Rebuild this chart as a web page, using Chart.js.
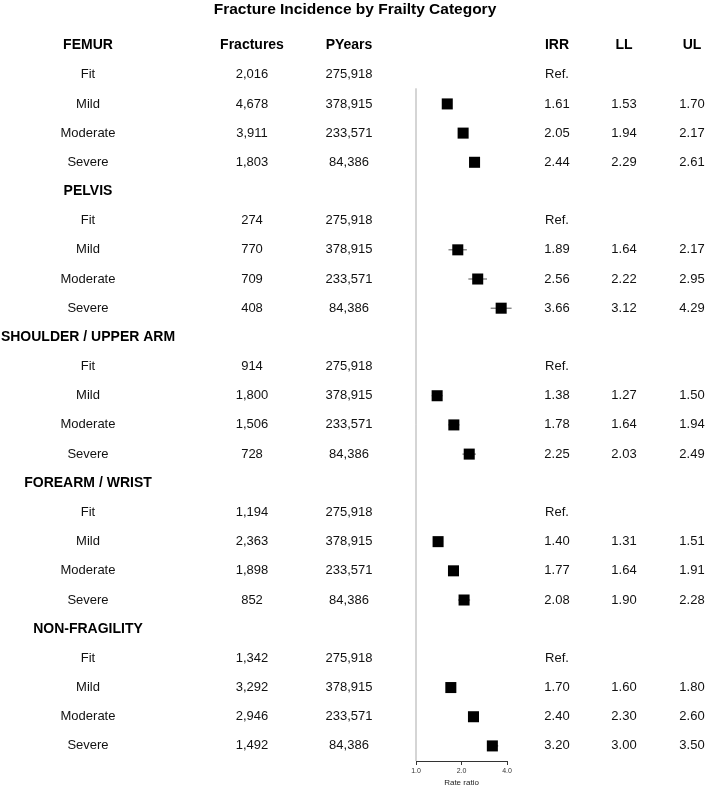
<!DOCTYPE html>
<html>
<head>
<meta charset="utf-8">
<script src="https://cdn.jsdelivr.net/npm/chart.js@4/dist/chart.umd.min.js"></script>
<style>
html,body{margin:0;padding:0;background:#fff;}
#wrap{width:708px;height:787px;position:relative;}
</style>
</head>
<body>
<div id="wrap"><canvas id="c"></canvas></div>
<script>
const title = 'Fracture Incidence by Frailty Category';
const sections = ['FEMUR', 'PELVIS', 'SHOULDER / UPPER ARM', 'FOREARM / WRIST', 'NON-FRAGILITY'];
const categories = ['Fit', 'Mild', 'Moderate', 'Severe'];
const columnHeaders = ['Fractures', 'PYears', 'IRR', 'LL', 'UL'];
const refLabel = 'Ref.';

const fractures = [
  [2016, 4678, 3911, 1803],
  [274, 770, 709, 408],
  [914, 1800, 1506, 728],
  [1194, 2363, 1898, 852],
  [1342, 3292, 2946, 1492]
];
const pyears = [275918, 378915, 233571, 84386];

// IRR / LL / UL for Mild, Moderate, Severe (Fit is reference)
const irr = [
  [1.61, 2.05, 2.44],
  [1.89, 2.56, 3.66],
  [1.38, 1.78, 2.25],
  [1.40, 1.77, 2.08],
  [1.70, 2.40, 3.20]
];
const lower = [
  [1.53, 1.94, 2.29],
  [1.64, 2.22, 3.12],
  [1.27, 1.64, 2.03],
  [1.31, 1.64, 1.90],
  [1.60, 2.30, 3.00]
];
const upper = [
  [1.70, 2.17, 2.61],
  [2.17, 2.95, 4.29],
  [1.50, 1.94, 2.49],
  [1.51, 1.91, 2.28],
  [1.80, 2.60, 3.50]
];

const tickValues = [1, 2, 4];
const tickLabels = ['1.0', '2.0', '4.0'];
const axisTitle = 'Rate ratio';

const Y_MIN = -1.294;
const Y_MAX = 24.517;
const ROWS_PER_SECTION = categories.length + 1;

const markers = [];
const ciLine = [];
sections.forEach((s, si) => {
  irr[si].forEach((v, k) => {
    const row = si * ROWS_PER_SECTION + 2 + k;
    markers.push({x: v, y: row});
    ciLine.push({x: lower[si][k], y: row});
    ciLine.push({x: upper[si][k], y: row});
    ciLine.push({x: NaN, y: NaN});
  });
});
const refLine = [{x: 1, y: 1.47}, {x: 1, y: Y_MAX}];

const fmt = n => n.toLocaleString('en-US');
const COL = {label: 88, fr: 252, py: 349, irr: 557, ll: 624, ul: 692};

const tablePlugin = {
  id: 'tableText',
  afterDraw(chart) {
    const ctx = chart.ctx;
    const ys = chart.scales.y;
    ctx.save();
    ctx.textAlign = 'center';
    ctx.textBaseline = 'middle';
    ctx.fillStyle = '#000';
    ctx.font = 'bold 15.5px "Liberation Sans", Arial, sans-serif';
    ctx.fillText(title, 355, 10);
    sections.forEach((s, si) => {
      const hr = si * ROWS_PER_SECTION;
      const hy = ys.getPixelForValue(hr);
      ctx.fillStyle = '#000';
      ctx.font = 'bold 14px "Liberation Sans", Arial, sans-serif';
      ctx.fillText(s, COL.label, hy);
      if (si === 0) {
        ctx.fillText(columnHeaders[0], COL.fr, hy);
        ctx.fillText(columnHeaders[1], COL.py, hy);
        ctx.fillText(columnHeaders[2], COL.irr, hy);
        ctx.fillText(columnHeaders[3], COL.ll, hy);
        ctx.fillText(columnHeaders[4], COL.ul, hy);
      }
      ctx.font = '13px "Liberation Sans", Arial, sans-serif';
      ctx.fillStyle = '#111';
      categories.forEach((c, ci) => {
        const y = ys.getPixelForValue(hr + 1 + ci);
        ctx.fillText(c, COL.label, y);
        ctx.fillText(fmt(fractures[si][ci]), COL.fr, y);
        ctx.fillText(fmt(pyears[ci]), COL.py, y);
        if (ci === 0) {
          ctx.fillText(refLabel, COL.irr, y);
        } else {
          ctx.fillText(irr[si][ci - 1].toFixed(2), COL.irr, y);
          ctx.fillText(lower[si][ci - 1].toFixed(2), COL.ll, y);
          ctx.fillText(upper[si][ci - 1].toFixed(2), COL.ul, y);
        }
      });
    });
    ctx.restore();
  }
};

new Chart(document.getElementById('c'), {
  type: 'scatter',
  data: {
    datasets: [
      {
        data: refLine, showLine: true, borderColor: '#cfcfcf', borderWidth: 1,
        pointRadius: 0, clip: false, order: 3
      },
      {
        data: ciLine, showLine: true, spanGaps: false, borderColor: '#555', borderWidth: 1,
        pointRadius: 0, clip: false, order: 2
      },
      {
        data: markers, pointStyle: 'rect', pointRadius: 7.8, backgroundColor: '#000',
        borderWidth: 0, clip: false, order: 1
      }
    ]
  },
  options: {
    responsive: true,
    maintainAspectRatio: false,
    animation: false,
    events: [],
    layout: {padding: {left: 416, right: 201, top: 0, bottom: 0}},
    plugins: {legend: {display: false}, tooltip: {enabled: false}, title: {display: false}},
    scales: {
      x: {
        type: 'logarithmic',
        min: 1, max: 4,
        afterBuildTicks: (scale) => { scale.ticks = tickValues.map(v => ({value: v})); },
        ticks: {
          autoSkip: false, maxRotation: 0, padding: 3,
          color: '#333',
          font: {family: '"Liberation Sans", Arial, sans-serif', size: 7, lineHeight: 1},
          callback: (v) => tickLabels[tickValues.indexOf(v)]
        },
        grid: {drawOnChartArea: false, drawTicks: true, tickLength: 4, color: '#333'},
        border: {display: true, color: '#333', width: 1},
        title: {
          display: true, text: axisTitle, color: '#222', padding: {top: 1, bottom: 0},
          font: {family: '"Liberation Sans", Arial, sans-serif', size: 8, lineHeight: 1}
        }
      },
      y: {
        type: 'linear', display: false, reverse: true, min: Y_MIN, max: Y_MAX
      }
    }
  },
  plugins: [tablePlugin]
});
</script>
</body>
</html>
